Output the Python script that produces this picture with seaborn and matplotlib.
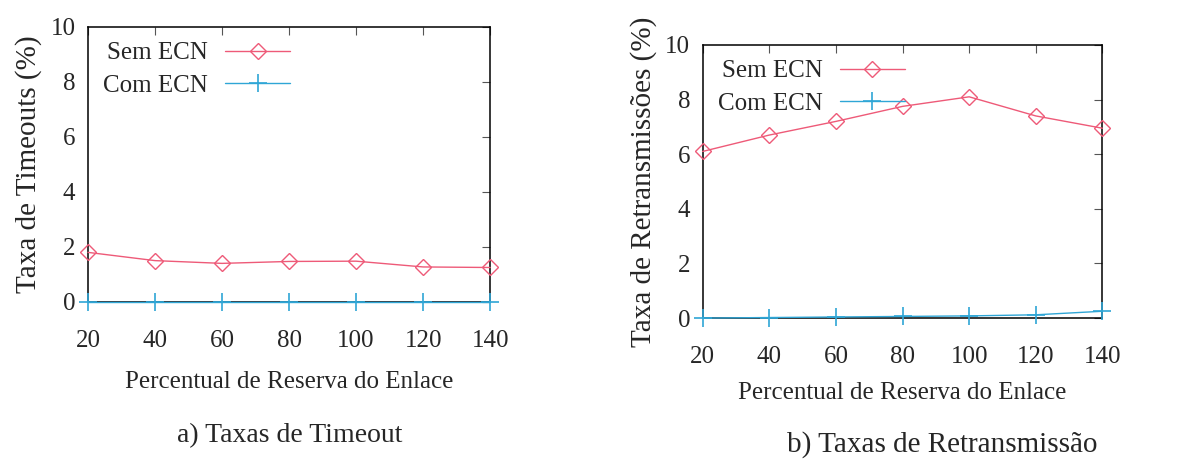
import matplotlib
matplotlib.use("Agg")
import matplotlib.pyplot as plt
import seaborn as sns
import pandas as pd

# ---- data ----
reserva = [20, 40, 60, 80, 100, 120, 140]
timeout_sem_ecn = [1.8, 1.5, 1.4, 1.47, 1.48, 1.27, 1.25]
timeout_com_ecn = [0.0, 0.0, 0.0, 0.0, 0.0, 0.0, 0.0]
retrans_sem_ecn = [6.1, 6.7, 7.2, 7.75, 8.1, 7.4, 6.95]
retrans_com_ecn = [0.0, 0.02, 0.04, 0.06, 0.08, 0.12, 0.25]
series_names = ["Sem ECN", "Com ECN"]
x_ticks = [20, 40, 60, 80, 100, 120, 140]
y_ticks = [0, 2, 4, 6, 8, 10]
x_label = "Percentual de Reserva do Enlace"
y_label_a = "Taxa de Timeouts (%)"
y_label_b = "Taxa de Retransmissões (%)"
caption_a = "a) Taxas de Timeout"
caption_b = "b) Taxas de Retransmissão"

sns.set_style("white")
plt.rcParams["font.family"] = ["Liberation Serif", "DejaVu Serif"]

RED = "#ee5a78"
CYAN = "#2fa6d6"

fig = plt.figure(figsize=(11.97, 4.63), dpi=100)
ax1 = fig.add_axes([0.0735, 0.348, 0.336, 0.594])
ax2 = fig.add_axes([0.587, 0.313, 0.334, 0.590])


def make_df(sem, com):
    return pd.DataFrame({
        "x": reserva * 2,
        "y": list(sem) + list(com),
        "serie": [series_names[0]] * len(sem) + [series_names[1]] * len(com),
    })


def draw(ax, sem, com, ylabel, xpad):
    df = make_df(sem, com)
    d1 = df[df["serie"] == series_names[0]]
    d2 = df[df["serie"] == series_names[1]]
    sns.lineplot(data=d1, x="x", y="y", ax=ax, color=RED, lw=1.0,
                 marker="D", markersize=8.5, markerfacecolor="none",
                 markeredgecolor=RED, markeredgewidth=1.0,
                 label=series_names[0], clip_on=False, zorder=4)
    sns.lineplot(data=d2, x="x", y="y", ax=ax, color=CYAN, lw=1.0,
                 marker="+", markersize=13, markeredgewidth=1.2,
                 markeredgecolor=CYAN,
                 label=series_names[1], clip_on=False, zorder=4)
    ax.set_xlim(20, 140)
    ax.set_ylim(0, 10)
    ax.set_xticks(x_ticks)
    ax.set_yticks(y_ticks)
    ax.set_xlabel(x_label, fontsize=18, labelpad=xpad)
    ax.set_ylabel(ylabel, fontsize=21, labelpad=6)
    ax.tick_params(axis="both", labelsize=18, direction="in", length=6,
                   width=0.8, color="#555555", top=True, right=True,
                   pad=9)
    ax.tick_params(axis="x", pad=20)
    for s in ax.spines.values():
        s.set_color("black")
        s.set_linewidth(1.1)
    leg = ax.legend(loc="upper left", frameon=False, markerfirst=False,
                    fontsize=18, handlelength=2.6, handletextpad=0.7,
                    labelspacing=0.4, borderaxespad=0.2,
                    bbox_to_anchor=(0.0, 1.0))
    return leg


draw(ax1, timeout_sem_ecn, timeout_com_ecn, y_label_a, 14)
draw(ax2, retrans_sem_ecn, retrans_com_ecn, y_label_b, 10)

fig.text(0.242, 0.06, caption_a, ha="center", va="center", fontsize=20)
fig.text(0.787, 0.04, caption_b, ha="center", va="center", fontsize=21)

fig.savefig("out.png", dpi=100)
